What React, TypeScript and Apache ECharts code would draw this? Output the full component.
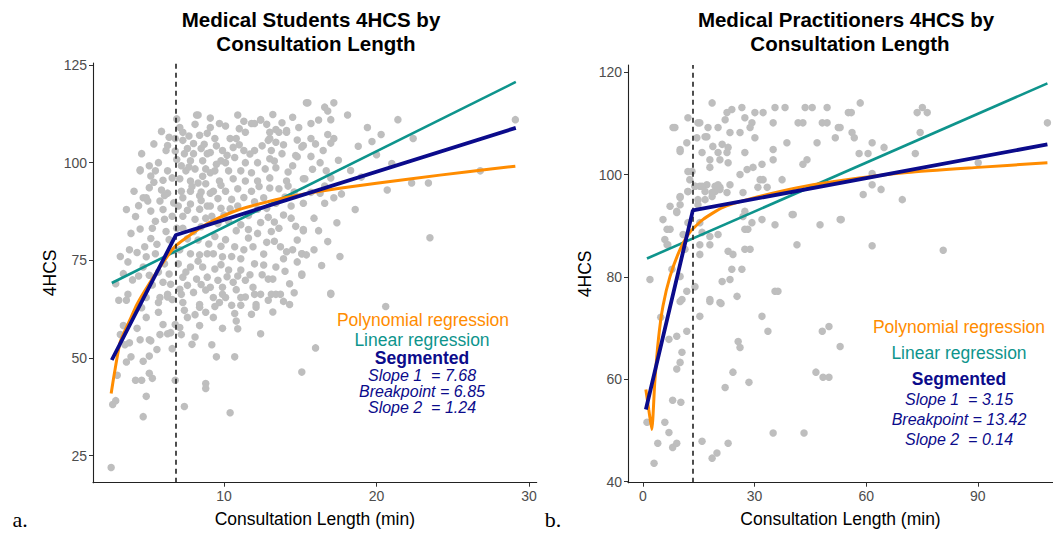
import React, { useEffect, useRef } from "react";
import * as echarts from "echarts";

// ---------- Data: Medical Students (left) ----------
const studentsPoints: [number, number][] = [
  [2.6,22],[2.7,38.1],[2.9,39.1],[4.7,35],[4.9,40.2],[4.2,44.3],[4.6,44.3],[5.3,44.8],[5.1,46.1],[4.7,49.2],[5.1,50.5],[3.9,50.3],[3.6,49],[3,45.6],[3.8,53.9],[4.5,54.7],[5.1,54.7],[5.8,56],[6.3,56.2],[4.9,60.4],[5.7,61.7],[6,58.6],[7.2,56],[8.1,55.4],[7.1,57.8],[7.6,60.4],[8.8,61.7],[9.3,60.4],[10.7,61.4],[11.1,63.5],[12.1,63],[12.9,64.8],[11.4,65.6],[13.4,66.3],[6.8,58.6],[5.7,64.2],[6.3,65.6],[3.4,58.3],[6.6,65],[7.4,62.2],[8.1,61.1],[8.4,63],[7.2,66.3],[9.9,66.3],[9.7,64.2],[10.5,63.5],[12,66.3],[3.5,53.4],[3.2,56],[5.2,54.4],[6.5,56.5],
  [20.6,63.2],[16,52.6],[15.1,46.4],[17,66.3],[12.4,56.2],[10.7,50.3],[9.5,50.3],[9.2,53.4],[10.9,57.5],[10.4,36],[8.8,43.5],[8.8,42.2],[7.4,37.6],[6.8,44.3],
  [3.9,81.9],[3.8,77.7],[3.7,74.6],[4,70],[3.7,66.3],[4.8,78.5],[4.9,75.9],[4.7,73.3],[5.2,80.6],[5.3,83.2],[5.5,85],[5.2,87.6],[6,88],[6.1,85.5],[5,90.2],[5.8,90.2],[4.7,91],[3.6,64.8],
  [7,88.9],[7.8,89.4],[8.4,88.1],[8.9,88.9],[7.3,86.3],[8.1,85.5],[8.8,85.8],[7.3,83.2],[8,82.4],[7.1,77.7],[7.8,76.7],[8.4,76.4],[8.9,76.7],[7,74.1],[7.8,73.3],[8.6,73.3],[7.3,70.7],[8.2,70.2],[8.9,70.7],[7.1,67.6],[8,66.8],[8.8,67.4],[7.3,64.2],[8.4,63.7],[6.4,71.5],[6.5,68.9],[6.3,66.3],[5.8,65.5],[6,69.4],[5.7,72],[6.1,74.1],[5.5,76.7],[6.4,80.3],[6.2,82.4],[6.6,86.3],[5.3,68.7],[4.9,65.5],
  [4.6,102.3],[4.5,97.9],[5.1,99.2],[5.7,100],[5.5,97.9],[5.4,95],[6.3,97.9],[6.2,103.1],[6.3,104.4],[6.4,106.5],[6.6,96.1],[6.3,92.2],[4.9,91],[4.5,98.2],
  [7.1,109],[7.3,107.8],[6.8,106.2],[7.3,105.7],[8.3,112.2],[8.4,107],[8.9,107.5],[9.1,111.4],[9.1,109],[8,104.9],[7.6,103.6],[7.4,102.3],[8,102.3],[8.5,103.6],[8.9,102.3],[8.6,100.5],[7.8,100.5],[7.2,99.2],[7.5,97.9],[8.1,98.4],[8.8,98.4],[9.1,97.4],[7.1,95.9],[7.8,95.3],[8.3,94.8],[8.8,94.6],[7.2,92.7],[7.8,92.7],[8.4,91.5],[9.1,92.2],[7.3,91],
  [9.7,110],[11.8,110],[12.4,110.9],[11.4,107.8],[13,107.8],[13.6,107.8],[14.1,107.8],[14.9,109],[15.4,115.3],[10.4,106.2],[10.8,106.2],[12.9,105.7],[13.4,105.2],[15.2,104.4],[9.1,102.6],[9.9,103.1],[10.6,103.9],[11.3,103.1],[12,103.1],[13.1,103.1],[13.8,102.3],[9.8,100.5],[10.7,101.3],[11.4,100],[12.2,100],[13,101],[14.5,99.2],[9.4,97.9],[10.3,97.9],[11.1,97.9],[11.8,97.4],[12.7,98.4],[13.4,98.7],[9.7,95.3],[10.6,95.9],[11.4,95.3],[12.2,95.3],[13,96.1],[14.1,95.3],[15.2,95.9],[9.3,92.7],[10.1,92.7],[10.9,93.3],[11.8,92.7],[13,93.5],[13.6,93.3],[14.2,94],
  [9.1,88.9],[9.8,88.3],[10.9,88.9],[12.2,88.1],[13.4,89.6],[14.4,88.9],[15.2,89.6],[14.4,85.8],[15.2,82.9],[11.6,82.9],[12.2,81.9],[13.1,82.4],[13.6,83.2],[9.4,81.1],[10.1,80.3],[10.7,78.5],[11.3,77.7],[11.9,78.5],[13.7,78.5],[14.1,77.2],[14.5,77.7],[13.9,75.4],[15.1,76.7],[9.3,76.7],[9.9,75.9],[11.1,75.4],[12,74.1],[12.6,73.8],[13.4,73.3],[15.1,71.5],[9.4,72.8],[10.3,72.5],[11.1,72.5],[9.6,69.9],[10.6,69.4],[11.4,69.9],[11.9,68.1],[12.4,66.3],[13.1,66.3],[13.7,66.3],[9.1,68.1],[9.9,68.1],[9.3,65.5],[10.1,65.5],[11.1,65.5],[12.1,63.7],
  [8.2,112.2],[12,110],[12.4,111],[15.5,115.3],[16.6,114.2],[16.8,113.2],[17.2,115.3],[17,111],[18.1,112.2],[15.7,110],[15.1,104],[15.7,106.2],[16.8,107.2],[17.2,106.2],[17,105],[16.5,103.1],[15.7,101.6],[16.3,100],[16.7,97.9],[17,96.1],[15.3,95.9],[16.6,94],[17.7,92],[17.2,91],[16.6,89.6],[15.9,85.8],[15.2,82.6],[16.2,82.6],[15.9,77.7],[15.1,76.7],[15.4,76.4],[15.1,71.2],[17,66.6],[19.4,109],[20.3,107.2],[21.4,111],[22.4,106.2],[20,102],[20.7,93],[22.3,94.8],[23.4,94.8],[23.5,80.8],[26.8,97.9],[29.1,111],
  [14.1,108.2],[13.4,108.5],[13,106.2],[14.8,101.5],[14,91.2],[12.6,91],[10.5,90.6],[11.6,86.5],[10.3,85],[12.9,86],[14.8,80.2],[12.8,79.6],[10.8,82.6],[9.6,84.4],[8.3,80.2],[7.6,80.5],[13.2,70.2],[14.3,69],[12.5,71.3],[10.8,67.5],[8.5,92.5],
  [6.9,100.8],[7.7,98.9],[8.6,96.5],[9.5,99.6],[10.2,101.9],[11,104.6],[11.7,102.2],[12.5,104.3],[13.3,100.4],[14.2,97.6],[14.8,105.8],[13.8,110.2],[11,108.7],[10.1,109.4],[9.4,106.2],[8.1,109.8],[7.7,106.8],[6.8,103],[6,95.5],[5.9,93],[5.1,93.6],[4.4,89],[4.2,86.2],[4.5,83],[4.3,77],[4.4,71],[5.1,71.2],[5.6,79.1],[6.7,77.5],[6.9,83.2],[7.6,87.8],[8.5,90.3],[9.6,90.8],[10.4,88.2],[11.3,91.1],[12,90],[12.8,88.3],[13.9,86.6],[14.7,83.7],[13.3,84.8],[12.4,84.7],[11.1,84.1],[10,86.6],[9.2,86.3],[8.5,83.6],[9,79.2],[9.8,78.6],[10.5,76],[11.6,80.7],[12.6,76.6],[13.3,79.9],[14.8,74.6],[14,72.2],[12.9,70.2],[11.7,71.3],[10.9,71],[10.2,70.8],[9.8,73.9],[8.3,74.8],[7.5,72],[7.6,68.6],[8.5,68.8],[9.4,63.2],[10.8,59.5],[11.8,61.2],[13.2,61.8],[14.3,63.7],[14.6,66.7],[13.9,64.5],[9.9,57.6],[8.4,58.3],[7.9,53.5],[6.6,52.4],[5.6,52.2],[4.3,57.6],[4.6,62.9],[3.1,64.8],[3.4,71.6],[3.2,76],[2.9,69],[4.1,92.7],[3.6,88],[5.9,108],[5.4,104.8],[6.9,111.2],[10.9,112.2],[11.3,110.6],[13.2,112.3],[14.5,111.6],[16.2,110.9],[16,104.8],[15.8,98.3],[16.3,92.2],[17.5,100.6],[18.3,98],[18.6,88],[17.4,84.6],[16.8,79.8],[17.6,76],[16.4,73.7],[19,96.3],[19.7,105.4],[21,99.8],[18.8,104.2],[15.7,92.4],[14.6,92.5],[12.3,93.9],[9.8,94.2],[7.9,93.9],[6.7,89.7],[6.1,91.6],[5.2,96.6],[8.7,104.7],[9.5,104.3],[10.1,100],[12.8,109.8],[13.9,104.6],[14.7,101.8]
];
const studentsPoly: [number, number][] = [[2.6,40.9],[2.8,45.8],[3.2,54.2],[3.8,59.5],[4.3,63.8],[4.9,67.8],[5.8,73.3],[6.8,78.6],[8,82.1],[9,84.6],[11,88],[13.4,90.5],[15,91.8],[17.7,93.5],[22.3,95.9],[26,97.7],[29.1,99.1]];
const studentsLinear: [number, number][] = [[2.64,69.2],[29.13,120.65]];
const studentsSegmented: [number, number][] = [[2.64,49.5],[6.85,81.5],[29.13,108.9]];
const studentsBreakpoint = 6.85;
const studentsXTicks = [10, 20, 30];
const studentsYTicks = [25, 50, 75, 100, 125];
const studentsStats = ["Slope 1  = 7.68", "Breakpoint = 6.85", "Slope 2  = 1.24"];

// ---------- Data: Medical Practitioners (right) ----------
const practitionersPoints: [number, number][] = [
  [1.1,51.6],[3,43.6],[4,47.5],[5.9,51.6],[7,49.6],[8,46.7],[9.1,47.5],[8,55.9],[10.2,55.5],[9.1,62],[10,63.3],[10.5,65.3],[7,67.8],[9.1,68.4],[11.8,69.4],[4.8,72.1],[10,75.2],[15.3,72.3],[18,75.2],[21,74.8],[15.9,47.9],[18.6,44.6],[19.9,45.6],[22.9,47.5],[22.1,58.4],[24.2,61.4],[28.5,59.4],[25.6,67.4],[26.1,66.2],[32,72.3],[33.6,69.4],[35,49.5],[43.3,49.5],[46.5,61.4],[48.4,60.4],[50,60.4],[48.2,69.4],[50,70.3],[53,66.4],
  [18.6,114],[22.6,112.1],[23.9,112.7],[26.6,113.1],[30.1,112.1],[32.3,112.1],[35.5,113.1],[38.2,113.1],[43.6,113.1],[45.5,113.1],[49.5,113.1],[55.2,112.1],[12.1,111.1],[8.6,109.2],[15.3,110.1],[17.5,109.2],[20.2,109.2],[22.1,110.7],[27.4,111.1],[29.3,110.1],[28.8,109.2],[35,110.1],[41.7,110.1],[43,110.1],[48.2,110.1],[49.5,110.1],[52.5,109.2],[51.7,107.2],[38.7,106.2],[46.8,106.2],[30.1,107.2],[26.1,108.2],[23.4,108.2],[17.2,107.4],[14.5,107.2],[11.8,106.2],[10,104.9],[18.8,105.5],[21.3,105.9],[22.9,105.3],[20.2,104.3],[22.6,104.3],[15.9,104.3],[18,102.9],[20.7,102.9],[22.9,102.3],[27.4,104.3],[35,104.9],[35,102.9],[43,102],[44.1,102.9],[18,101.4],[28,101],[29.6,101.4],[32,102],[26.1,100],[13.2,100.6],[31.5,99],[32.3,99],[37.4,99],[15.3,97.7],[17.2,98],[20.2,98],[20.7,97.5],[23.4,98],[22.6,96.5],[19.4,96.7],[16.7,96.7],[14,97.7],[10,95.7],[12.1,96.7],[26.9,96.5],[30.9,97.5],[33.4,97.5],[7.3,93.8],[10,94.1],[14.8,94.1],[16.7,95.1],[18.6,95.7],[9.1,92.8],[5.4,91.2],[7.3,89.3],[12.1,90.6],[15.3,90.6],[15.9,88.7],[18,87.9],[20.2,88.3],[27.4,92.8],[26.9,91.8],[29.3,90.6],[27.4,89.3],[28.2,89.3],[32,91.2],[35.5,90.2],[40.1,92.2],[40.4,92.2],[47.6,90.2],[53,91.2],[41.4,86.3],[5.9,87.3],[6.7,86.3],[10.8,88.3],[15.3,86.3],[18,86.3],[11.3,85.4],[15.3,84.4],[22.9,85],[24.2,84.4],[27.4,85.4],[28.8,85.4],[1.9,79.5],[7.8,81.5],[10,80.1],[23.9,81.5],[26.6,81.5],[21.3,79.1],[23.4,79.5],[14,78.1],[11.8,77.2],[10.5,75.6],[18,75.6],[20.7,75],[25.3,76.2],[35.5,77.2],[36.3,77.2],
  [58.4,114],[56,112.1],[75.1,113.1],[73.7,112.1],[76.4,112.1],[56.2,108.2],[56.8,107.2],[74.5,108.2],[53,109.2],[61.6,106.2],[64.8,105.3],[58.1,104.1],[60.5,104.1],[73.2,104.1],[90.1,102.3],[61.6,100.2],[61.6,98],[59.2,96.1],[64,97.1],[69.7,95.1],[53.3,91.2],[61.6,86.1],[80.7,85.2],[108.7,110.1],
  [8.1,109.2],[10,104.5],[14.8,110.1],[16.7,107.4],[12.1,100.6],[12.6,99],[12.1,96.7],[10,95.5],[6.5,89.3],[6.5,86.3],[9.1,92.6],[15.9,97.7],[19.4,97.7],[20.7,97.1],[14.8,95.1],[14,97.7],[18.6,96.5]
];
const practitionersPoly: [number, number][] = [[0.8,58],[1.6,54],[2.4,50.2],[3.2,59.5],[4.2,68],[5.4,74.3],[7.3,80.1],[10,85.4],[12.6,88.7],[16.1,91.2],[21.5,93.6],[28,95.1],[36.9,96.7],[45.7,98],[55.7,99.1],[71,100.4],[90,101.4],[108.7,102.3]];
const practitionersLinear: [number, number][] = [[1.1,83.6],[108.7,117.8]];
const practitionersSegmented: [number, number][] = [[0.8,54.1],[13.42,93],[108.7,105.9]];
const practitionersBreakpoint = 13.42;
const practitionersXTicks = [0, 30, 60, 90];
const practitionersYTicks = [40, 60, 80, 100, 120];
const practitionersStats = ["Slope 1  = 3.15", "Breakpoint = 13.42", "Slope 2  = 0.14"];

const ORANGE = "#FF8C00";
const TEAL = "#0E948C";
const NAVY = "#0B0B8B";
const GREY = "#BEBEBE";
const SANS = "'Liberation Sans', Arial, sans-serif";

function txt(text: string, x: number, y: number, font: string, fill: string) {
  return {
    type: "text",
    x,
    y,
    silent: true,
    style: {
      text,
      font,
      fill,
      align: "center",
      verticalAlign: "middle",
      textAlign: "center",
      textVerticalAlign: "middle",
    },
  };
}

export default function App() {
  const ref = useRef<HTMLDivElement>(null);
  useEffect(() => {
    if (!ref.current) return;
    const chart = echarts.init(ref.current, undefined, { renderer: "svg" });

    const axisCommon = {
      type: "value",
      splitLine: { show: false },
      axisLine: { show: true, onZero: false, lineStyle: { color: "#222", width: 1.1 } },
      axisTick: { show: true, length: 4, lineStyle: { color: "#333" } },
      axisLabel: { color: "#4D4D4D", fontSize: 14, fontFamily: SANS, margin: 6 },
      nameTextStyle: { color: "#000", fontSize: 17.5, fontFamily: SANS },
      nameLocation: "middle",
      nameMoveOverlap: false,
    };

    const makeX = (gridIndex: number, min: number, max: number, ticks: number[]) => ({
      ...axisCommon,
      gridIndex,
      min,
      max,
      name: "Consultation Length (min)",
      nameGap: 27,
      axisTick: { ...axisCommon.axisTick, customValues: ticks },
      axisLabel: { ...axisCommon.axisLabel, customValues: ticks },
    });
    const makeY = (gridIndex: number, min: number, max: number, ticks: number[], gap: number) => ({
      ...axisCommon,
      gridIndex,
      min,
      max,
      name: "4HCS",
      nameGap: gap,
      axisTick: { ...axisCommon.axisTick, customValues: ticks },
      axisLabel: { ...axisCommon.axisLabel, customValues: ticks },
    });

    const seriesFor = (idx: number, pts: [number, number][], lin: [number, number][], poly: [number, number][], seg: [number, number][], bp: number) => [
      {
        type: "scatter",
        xAxisIndex: idx,
        yAxisIndex: idx,
        data: pts,
        symbolSize: 7.5,
        itemStyle: { color: GREY, opacity: 1 },
        silent: true,
        z: 2,
        markLine: {
          silent: true,
          symbol: ["none", "none"],
          label: { show: false },
          lineStyle: { type: [5, 4], color: "#222", width: 1.6 },
          data: [{ xAxis: bp }],
        },
      },
      {
        type: "line",
        xAxisIndex: idx,
        yAxisIndex: idx,
        data: lin,
        showSymbol: false,
        lineStyle: { color: TEAL, width: 2.6 },
        silent: true,
        z: 3,
      },
      {
        type: "line",
        xAxisIndex: idx,
        yAxisIndex: idx,
        data: poly,
        showSymbol: false,
        smooth: 0.2,
        lineStyle: { color: ORANGE, width: 3 },
        silent: true,
        z: 4,
      },
      {
        type: "line",
        xAxisIndex: idx,
        yAxisIndex: idx,
        data: seg,
        showSymbol: false,
        lineStyle: { color: NAVY, width: 3.8 },
        silent: true,
        z: 5,
      },
    ];

    const titleFont = `bold 20.5px ${SANS}`;
    const annFont = `17.5px ${SANS}`;
    const annBold = `bold 17.5px ${SANS}`;
    const annItalic = `italic 16px ${SANS}`;
    const serif = `22px 'Liberation Serif', 'Times New Roman', serif`;

    chart.setOption({
      animation: false,
      backgroundColor: "#fff",
      grid: [
        { left: 93, top: 63, width: 443.7, height: 419.7 },
        { left: 628, top: 65, width: 425, height: 417.7 },
      ],
      xAxis: [
        makeX(0, 1.41, 30.5, studentsXTicks),
        makeX(1, -4, 110.2, practitionersXTicks),
      ],
      yAxis: [
        makeY(0, 18.1, 125.5, studentsYTicks, 34),
        makeY(1, 39.8, 121.4, practitionersYTicks, 34),
      ],
      series: [
        ...seriesFor(0, studentsPoints, studentsLinear, studentsPoly, studentsSegmented, studentsBreakpoint),
        ...seriesFor(1, practitionersPoints, practitionersLinear, practitionersPoly, practitionersSegmented, practitionersBreakpoint),
      ],
      graphic: [
        txt("Medical Students 4HCS by", 311, 19, titleFont, "#000"),
        txt("Consultation Length", 316, 43, titleFont, "#000"),
        txt("Medical Practitioners 4HCS by", 846, 19, titleFont, "#000"),
        txt("Consultation Length", 850, 43, titleFont, "#000"),
        txt("Polynomial regression", 423, 320, annFont, ORANGE),
        txt("Linear regression", 422, 340, annFont, TEAL),
        txt("Segmented", 422, 358, annBold, NAVY),
        txt(studentsStats[0], 422, 375, annItalic, NAVY),
        txt(studentsStats[1], 422, 391, annItalic, NAVY),
        txt(studentsStats[2], 422, 407, annItalic, NAVY),
        txt("Polynomial regression", 959, 327, annFont, ORANGE),
        txt("Linear regression", 959, 353, annFont, TEAL),
        txt("Segmented", 959, 379, annBold, NAVY),
        txt(practitionersStats[0], 959, 399, annItalic, NAVY),
        txt(practitionersStats[1], 959, 419, annItalic, NAVY),
        txt(practitionersStats[2], 959, 439, annItalic, NAVY),
        txt("a.", 20, 519, serif, "#000"),
        txt("b.", 553, 519, serif, "#000"),
      ],
    });
    return () => chart.dispose();
  }, []);
  return (
    <div
      ref={ref}
      style={{ position: "absolute", left: 0, top: 0, width: 1053, height: 533, background: "#fff" }}
    />
  );
}
